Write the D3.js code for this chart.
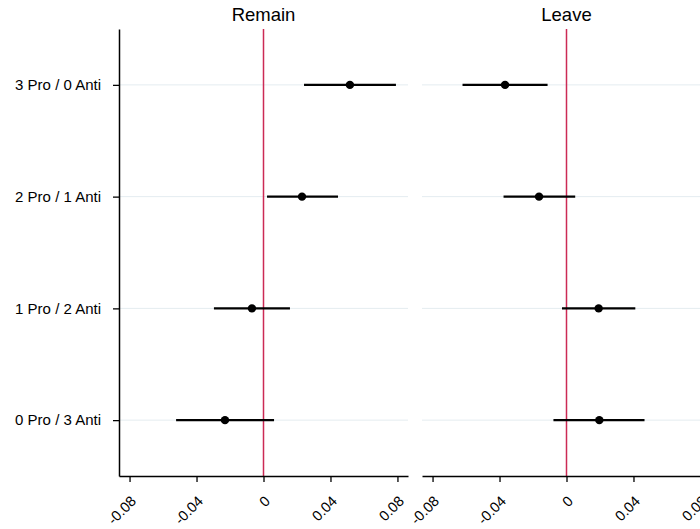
<!DOCTYPE html>
<html>
<head>
<meta charset="utf-8">
<script src="https://cdn.jsdelivr.net/npm/d3@7"></script>
<style>
  body { margin: 0; background: #fff; }
  svg { font-family: "Liberation Sans", Arial, Helvetica, sans-serif; }
</style>
</head>
<body>
<svg id="chart" width="700" height="529"></svg>
<script>
const categories = ['3 Pro / 0 Anti', '2 Pro / 1 Anti', '1 Pro / 2 Anti', '0 Pro / 3 Anti'];
const panels = ['Remain', 'Leave'];

// point estimates and interval ends, same order as categories
const remainEst = [0.0516, 0.0230, -0.0069, -0.0230];
const remainLo  = [0.0242, 0.0021, -0.0296, -0.0522];
const remainHi  = [0.0791, 0.0445, 0.0158, 0.0063];

const leaveEst = [-0.0367, -0.0164, 0.0192, 0.0196];
const leaveLo  = [-0.0621, -0.0376, -0.0027, -0.0078];
const leaveHi  = [-0.0113, 0.0052, 0.0411, 0.0466];

const xTicks = [-0.08, -0.04, 0, 0.04, 0.08];
const xTickLabels = ['-0.08', '-0.04', '0', '0.04', '0.08'];

const seriesByPanel = {
  Remain: categories.map((c, i) => ({cat: c, est: remainEst[i], lo: remainLo[i], hi: remainHi[i]})),
  Leave: categories.map((c, i) => ({cat: c, est: leaveEst[i], lo: leaveLo[i], hi: leaveHi[i]}))
};

const svg = d3.select('#chart');

const plotTop = 29, plotBottom = 476;
const panelLeft = [119, 422];
const panelWidth = 289;

const y = d3.scalePoint()
  .domain(categories)
  .range([plotTop, plotBottom])
  .padding(0.5);

panels.forEach((name, p) => {
  const x = d3.scaleLinear()
    .domain([-0.0863, 0.0863])
    .range([panelLeft[p], panelLeft[p] + panelWidth]);

  const g = svg.append('g').attr('class', 'panel');

  // gridlines
  g.selectAll('.grid')
    .data(categories)
    .join('line')
    .attr('x1', x.range()[0])
    .attr('x2', x.range()[1])
    .attr('y1', d => y(d))
    .attr('y2', d => y(d))
    .attr('stroke', '#e4ecf0')
    .attr('stroke-width', 1);

  // zero line
  g.append('line')
    .attr('x1', x(0)).attr('x2', x(0))
    .attr('y1', plotTop).attr('y2', plotBottom)
    .attr('stroke', '#cc2a55')
    .attr('stroke-width', 1.5);

  // x axis
  const xAxis = g.append('g')
    .attr('transform', `translate(0,${plotBottom})`)
    .call(d3.axisBottom(x).tickValues(xTicks).tickSize(6).tickSizeOuter(0).tickFormat((d, i) => xTickLabels[i]));
  xAxis.select('.domain').attr('stroke', '#000').attr('stroke-width', 1.5);
  xAxis.selectAll('.tick line').attr('stroke', '#000').attr('stroke-width', 1.3);
  xAxis.selectAll('.tick text')
    .attr('font-size', 14.5)
    .attr('fill', '#000')
    .attr('text-anchor', 'end')
    .attr('dy', null)
    .attr('y', null)
    .attr('transform', 'translate(7,26) rotate(-45)');

  if (p === 0) {
    const yAxis = g.append('g')
      .attr('transform', `translate(${panelLeft[p]},0)`)
      .call(d3.axisLeft(y).tickSize(6).tickSizeOuter(0).tickPadding(12));
    yAxis.select('.domain').attr('stroke', '#000').attr('stroke-width', 1.5);
    yAxis.selectAll('.tick line').attr('stroke', '#000').attr('stroke-width', 1.3);
    yAxis.selectAll('.tick text').attr('font-size', 15).attr('fill', '#000');
  }

  // title
  g.append('text')
    .attr('x', x(0))
    .attr('y', 21)
    .attr('text-anchor', 'middle')
    .attr('font-size', 18.5)
    .attr('fill', '#000')
    .text(name);

  const data = seriesByPanel[name];

  g.selectAll('.ci')
    .data(data)
    .join('line')
    .attr('x1', d => x(d.lo))
    .attr('x2', d => x(d.hi))
    .attr('y1', d => y(d.cat))
    .attr('y2', d => y(d.cat))
    .attr('stroke', '#000')
    .attr('stroke-width', 2.2);

  g.selectAll('.pt')
    .data(data)
    .join('circle')
    .attr('cx', d => x(d.est))
    .attr('cy', d => y(d.cat))
    .attr('r', 4.2)
    .attr('fill', '#000');
});
</script>
</body>
</html>
